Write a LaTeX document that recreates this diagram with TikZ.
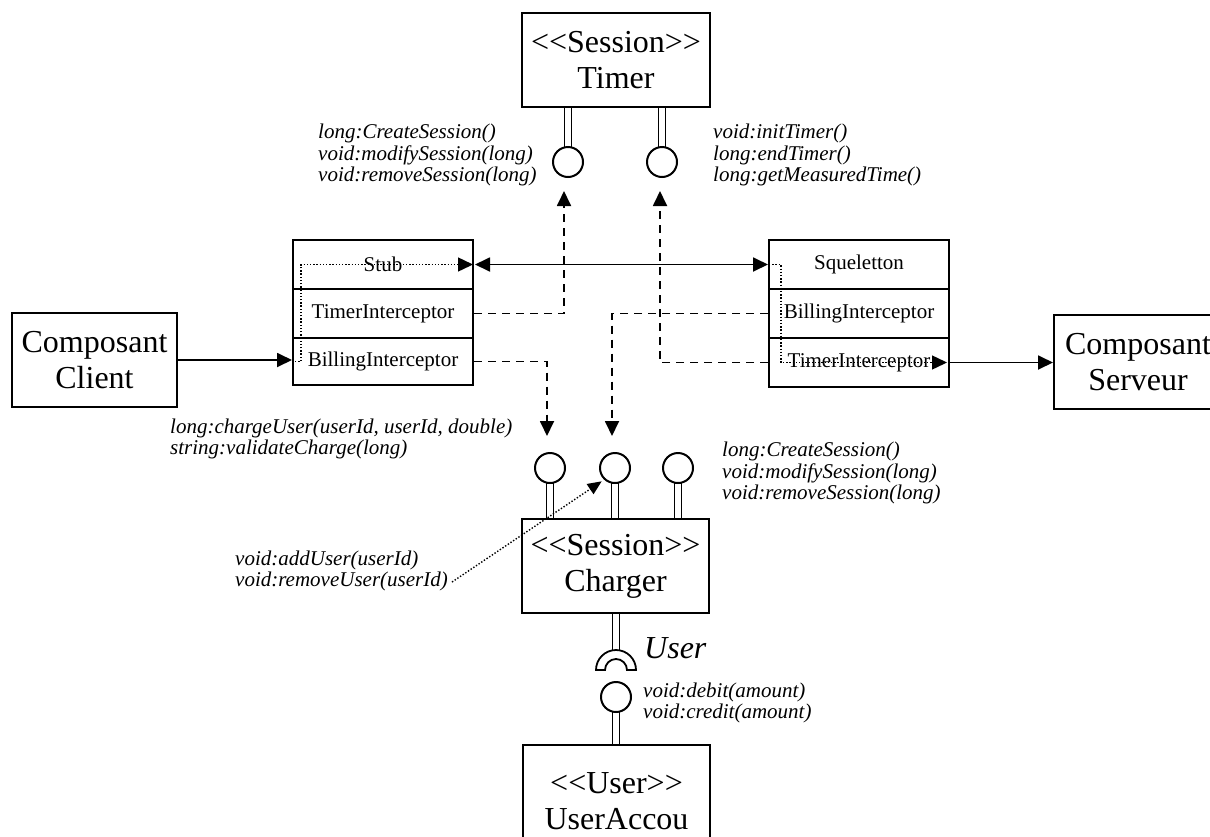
\documentclass[tikz,border=0pt]{standalone}
\usepackage{fontspec}
\newfontfamily\tnr{Liberation Serif}
\usetikzlibrary{arrows.meta}
\begin{document}
\begin{tikzpicture}[x=1pt,y=1pt,
  bigbox/.style={draw, line width=2pt, fill=white, inner sep=0pt, align=center,
    font=\tnr\fontsize{32}{36}\selectfont},
  rowbox/.style={draw, line width=2pt, inner sep=0pt, minimum width=180pt, minimum height=49pt,
    font=\tnr\fontsize{21}{24}\selectfont},
  lab/.style={inner sep=0pt, anchor=west, align=left, font=\tnr\itshape\fontsize{21}{21.5}\selectfont},
  lolly/.style={circle, draw, line width=2pt, fill=white, minimum size=30pt, inner sep=0pt},
  stem/.style={draw, line width=1.8pt, fill=white},
  tip/.style={Triangle[length=15pt,width=14pt]},
  conn/.style={line width=1.8pt, -{Triangle[length=15pt,width=14pt]}},
  dashconn/.style={line width=1.8pt, dash pattern=on 8pt off 6pt, -{Triangle[length=15pt,width=14pt]}},
  dotconn/.style={line width=1.4pt, dash pattern=on 1.4pt off 1.8pt, -{Triangle[length=15pt,width=14pt]}},
]
\useasboundingbox (0,0) rectangle (1210,-836);
\clip (0,0) rectangle (1210,-836);

% Timer component and its lollipops
\draw[stem] (564.5,-107) rectangle (571.5,-148);
\draw[stem] (658.5,-107) rectangle (665.5,-148);
\node[bigbox, minimum width=188pt, minimum height=94pt] (timer) at (616,-60) {<<Session>>\\Timer};
\node[lolly] (tc1) at (568,-162) {};
\node[lolly] (tc2) at (662,-162) {};
\node[lab] (tl) at (318,-155) {long:CreateSession()\\void:modifySession(long)\\void:removeSession(long)};
\node[lab] (tr) at (713,-155) {void:initTimer()\\long:endTimer()\\long:getMeasuredTime()};

% Client / Server
\node[bigbox, minimum width=165pt, minimum height=94pt] (client) at (94.5,-360) {Composant\\Client};
\node[bigbox, minimum width=168pt, minimum height=94pt] (serveur) at (1138,-362) {Composant\\Serveur};

% Stub stack
\node[rowbox] (stub) at (383,-264.5) {Stub};
\node[rowbox] (ltimer) at (383,-313.5) {TimerInterceptor};
\node[rowbox, minimum height=47pt] (lbill) at (383,-361.5) {BillingInterceptor};

% Squeletton stack
\node[rowbox] (squel) at (859,-264.5) {Squeletton};
\node[rowbox] (rbill) at (859,-313.5) {BillingInterceptor};
\node[rowbox] (rtimer) at (859,-362.5) {TimerInterceptor};

% Charger component
\draw[stem] (546.5,-483) rectangle (553.5,-519);
\draw[stem] (611.5,-483) rectangle (618.5,-519);
\draw[stem] (674.5,-483) rectangle (681.5,-519);
\draw[stem] (612.5,-613) rectangle (619.5,-653);
\node[bigbox, minimum width=187pt, minimum height=94pt] (charger) at (615.5,-566) {<<Session>>\\Charger};
\node[lolly] (cc1) at (550,-468) {};
\node[lolly] (cc2) at (615,-468) {};
\node[lolly] (cc3) at (678,-468) {};
\node[lab] (cl) at (170,-439) {long:chargeUser(userId, userId, double)\\string:validateCharge(long)};
\node[lab] (cr) at (722,-473) {long:CreateSession()\\void:modifySession(long)\\void:removeSession(long)};
\node[lab] (au) at (235,-571) {void:addUser(userId)\\void:removeUser(userId)};

% Socket and User interface
\draw[line width=1.8pt, fill=white] (596,-670) arc[start angle=180, end angle=0, radius=20pt]
  -- (627,-670) arc[start angle=0, end angle=180, radius=11pt] -- cycle;
\node[inner sep=0pt, anchor=west, font=\tnr\itshape\fontsize{32}{36}\selectfont] (userlab) at (644,-648) {User};
\draw[stem] (612.5,-711) rectangle (619.5,-746);
\node[lolly] (uc) at (616,-697) {};
\node[lab] (db) at (643,-703) {void:debit(amount)\\void:credit(amount)};
\node[bigbox, minimum width=187pt, minimum height=112pt] (account) at (616.5,-801) {<<User>>\\UserAccou};

% Connectors
\draw[conn] (client.east) -- (client.east -| lbill.west);
\draw[dotconn] ([xshift=3pt]lbill.west) -- ++(6,0) |- ([xshift=-1pt]stub.east);
\draw[line width=1.8pt, {Triangle[length=15pt,width=14pt]}-{Triangle[length=15pt,width=14pt]}] ([xshift=1pt]stub.east) -- (squel.west);
\draw[dotconn] ([xshift=1pt]squel.west) -- ++(12,0) |- ([xshift=-3pt]rtimer.east);
\draw[conn] (rtimer.east) -- (serveur.west |- rtimer.east);

\coordinate (t1tip) at ([xshift=-4pt,yshift=-13pt]tc1.south);
\coordinate (t2tip) at ([xshift=-2pt,yshift=-13pt]tc2.south);
\coordinate (c1tip) at ([xshift=-3pt,yshift=16pt]cc1.north);
\coordinate (c2tip) at ([xshift=-3pt,yshift=16pt]cc2.north);
\draw[dashconn] (ltimer.east) -| (t1tip);
\draw[dashconn] (rtimer.west) -| (t2tip);
\draw[dashconn] (lbill.east) -| (c1tip);
\draw[dashconn] (rbill.west) -| (c2tip);

\coordinate (austart) at (452,-582);
\draw[line width=1.4pt, dash pattern=on 1.4pt off 1.8pt, -{Triangle[length=14pt,width=12pt]}] (austart) -- ([xshift=-2pt,yshift=-2pt]cc2.south west);
\end{tikzpicture}
\end{document}
